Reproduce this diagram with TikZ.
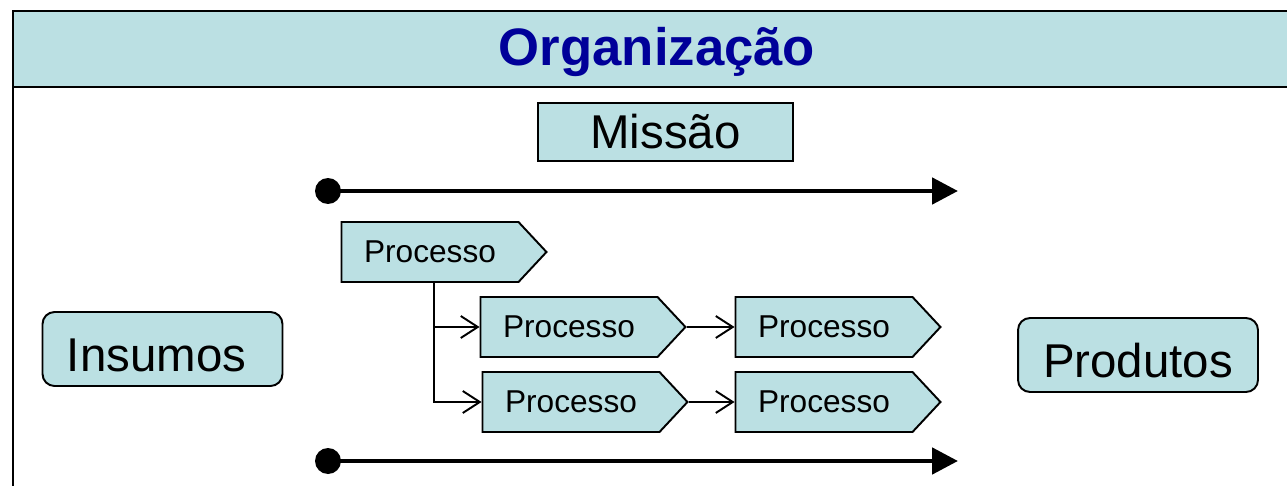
\documentclass[tikz,border=0pt]{standalone}
\usepackage{fontspec}
\setmainfont{Liberation Sans}
\usetikzlibrary{arrows.meta,shapes.symbols}

\definecolor{azulclaro}{RGB}{187,224,227}
\definecolor{azultitulo}{RGB}{0,0,153}

\begin{document}
\begin{tikzpicture}[x=0.02cm, y=-0.02cm,
    caixa/.style={draw=black, line width=1.1pt, fill=azulclaro, inner sep=0pt},
    processo/.style={caixa, shape=signal, signal to=east, signal pointer angle=94,
        minimum width=4.1cm, minimum height=1.2cm, font=\fontsize{18}{20}\selectfont},
    grande/.style={caixa, rounded corners=0.24cm, minimum width=4.8cm, minimum height=1.48cm,
        text height=0.9cm, text depth=0pt, font=\fontsize{27}{30}\selectfont},
    ponto/.style={circle, fill=black, minimum size=0.52cm, inner sep=0pt},
    eixo/.style={line width=2.8pt, -{Triangle[length=0.52cm,width=0.52cm]}},
    seta/.style={line width=1.1pt, -{Straight Barb[length=0.34cm,width=0.44cm]}}]
    \useasboundingbox (0,0) rectangle (1287,486);

    % Faixa do titulo e moldura
    \fill[azulclaro] (13,11) rectangle (1300,87);
    \draw[line width=1.7pt] (1300,11) -- (13,11) -- (13,500);
    \draw[line width=1.7pt] (13,87) -- (1300,87);
    \node[font=\fontsize{30}{34}\selectfont\bfseries, text=azultitulo] (titulo) at (657,52) {Organização};

    % Missao
    \node[caixa, minimum width=5.1cm, minimum height=1.16cm, font=\fontsize{27}{30}\selectfont] (missao) at (665.5,132) {Missão};

    % Eixos
    \node[ponto] (ini1) at (328,191) {};
    \coordinate (fim1) at (958,191);
    \node[ponto] (ini2) at (328,461) {};
    \coordinate (fim2) at (958,461);
    \draw[eixo] (ini1.center) -- (fim1);
    \draw[eixo] (ini2.center) -- (fim2);

    % Processos
    \node[processo] (p0) at (430,252) {Processo};
    \node[processo] (p1) at (569,327) {Processo};
    \node[processo] (p2) at (824,327) {Processo};
    \node[processo] (p3) at (571,402) {Processo};
    \node[processo] (p4) at (824,402) {Processo};

    % Ligacoes
    \coordinate (ramo) at (434,282);
    \draw[seta] (ramo) |- (p1.west);
    \draw[seta] (ramo) |- (p3.west);
    \draw[seta] (p1.east) -- (p2.west);
    \draw[seta] (p3.east) -- (p4.west);

    % Entrada e saida
    \node[grande] (insumos) at (162.5,349) {\hspace*{-0.24cm}Insumos};
    \node[grande] (produtos) at (1138,355) {Produtos};
\end{tikzpicture}
\end{document}
